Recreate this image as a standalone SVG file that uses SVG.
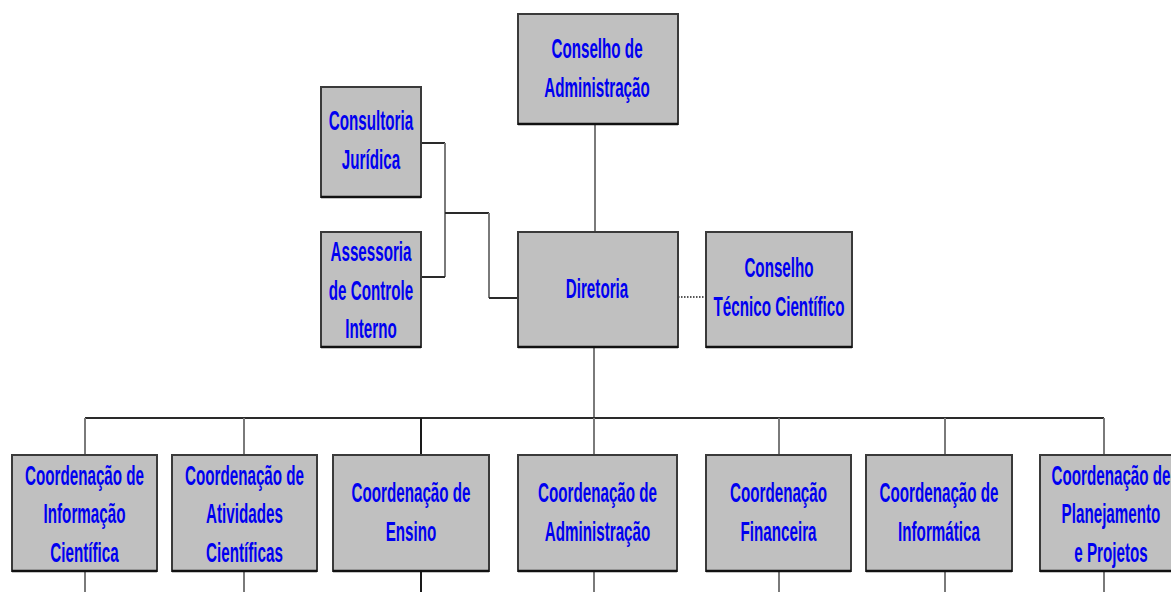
<svg xmlns="http://www.w3.org/2000/svg" width="1171" height="592" viewBox="0 0 1171 592">
<style>
.box{fill:#c0c0c0;stroke:#3a3a3a;stroke-width:2}
.sh{stroke:#111;stroke-width:2.5;fill:none}
.t{font-family:"Liberation Sans",Arial,sans-serif;font-weight:bold;font-size:19px;fill:#0000f0;text-anchor:middle}
.h{stroke:#2a2a2a;stroke-width:2;fill:none}
.v{stroke:#7a7a7a;stroke-width:2;fill:none}
.vd{stroke:#1a1a1a;stroke-width:2;fill:none}
.dot{stroke:#555;stroke-width:2;stroke-dasharray:1.5 1.5;fill:none}
</style>
<rect width="1171" height="592" fill="#ffffff"/>
<g id="connectors">
<path class="v" d="M595 124V232"/>
<path class="h" d="M421 143H445"/>
<path class="v" d="M445 143V277"/>
<path class="h" d="M421 277H445"/>
<path class="h" d="M445 213H489"/>
<path class="v" d="M489 213V298"/>
<path class="h" d="M489 298H518"/>
<path class="dot" d="M678 297H706"/>
<path class="v" d="M594 347V418"/>
<path class="h" d="M85 418H1104"/>
<path class="v" d="M85 418V455M85 571V592"/>
<path class="v" d="M244 418V455M244 571V592"/>
<path class="vd" d="M421 418V455M421 571V592"/>
<path class="v" d="M594 418V455M594 571V592"/>
<path class="v" d="M779 418V455M779 571V592"/>
<path class="v" d="M945 418V455M945 571V592"/>
<path class="v" d="M1104 418V455M1104 571V592"/>
</g>
<g id="conselho-administracao">
<rect class="box" x="518" y="14" width="160" height="110"/>
<path class="sh" d="M518 124H678"/>
<text class="t" transform="translate(597,58) scale(0.8,1.5)">Conselho de</text>
<text class="t" transform="translate(597,96.5) scale(0.8,1.5)">Administração</text>
</g>
<g id="consultoria-juridica">
<rect class="box" x="321" y="87" width="100" height="110"/>
<path class="sh" d="M321 197H421"/>
<text class="t" transform="translate(371,130) scale(0.8,1.5)">Consultoria</text>
<text class="t" transform="translate(371,168.5) scale(0.8,1.5)">Jurídica</text>
</g>
<g id="assessoria-controle-interno">
<rect class="box" x="321" y="232" width="100" height="115"/>
<path class="sh" d="M321 347H421"/>
<text class="t" transform="translate(371,261) scale(0.8,1.5)">Assessoria</text>
<text class="t" transform="translate(371,299.5) scale(0.8,1.5)">de Controle</text>
<text class="t" transform="translate(371,338) scale(0.8,1.5)">Interno</text>
</g>
<g id="diretoria">
<rect class="box" x="518" y="232" width="160" height="115"/>
<path class="sh" d="M518 347H678"/>
<text class="t" transform="translate(597,298) scale(0.8,1.5)">Diretoria</text>
</g>
<g id="conselho-tecnico-cientifico">
<rect class="box" x="706" y="232" width="146" height="115"/>
<path class="sh" d="M706 347H852"/>
<text class="t" transform="translate(779,277) scale(0.8,1.5)">Conselho</text>
<text class="t" transform="translate(779,315.5) scale(0.8,1.5)">Técnico Científico</text>
</g>
<g id="coord-informacao-cientifica">
<rect class="box" x="12" y="455" width="145" height="116"/>
<path class="sh" d="M12 571H157"/>
<text class="t" transform="translate(84.5,484.5) scale(0.8,1.5)">Coordenação de</text>
<text class="t" transform="translate(84.5,523) scale(0.8,1.5)">Informação</text>
<text class="t" transform="translate(84.5,561.5) scale(0.8,1.5)">Científica</text>
</g>
<g id="coord-atividades-cientificas">
<rect class="box" x="172" y="455" width="145" height="116"/>
<path class="sh" d="M172 571H317"/>
<text class="t" transform="translate(244.5,484.5) scale(0.8,1.5)">Coordenação de</text>
<text class="t" transform="translate(244.5,523) scale(0.8,1.5)">Atividades</text>
<text class="t" transform="translate(244.5,561.5) scale(0.8,1.5)">Científicas</text>
</g>
<g id="coord-ensino">
<rect class="box" x="333" y="455" width="156" height="116"/>
<path class="sh" d="M333 571H489"/>
<text class="t" transform="translate(411,502) scale(0.8,1.5)">Coordenação de</text>
<text class="t" transform="translate(411,540.5) scale(0.8,1.5)">Ensino</text>
</g>
<g id="coord-administracao">
<rect class="box" x="518" y="455" width="159" height="116"/>
<path class="sh" d="M518 571H677"/>
<text class="t" transform="translate(597.5,502) scale(0.8,1.5)">Coordenação de</text>
<text class="t" transform="translate(597.5,540.5) scale(0.8,1.5)">Administração</text>
</g>
<g id="coord-financeira">
<rect class="box" x="706" y="455" width="145" height="116"/>
<path class="sh" d="M706 571H851"/>
<text class="t" transform="translate(778.5,502) scale(0.8,1.5)">Coordenação</text>
<text class="t" transform="translate(778.5,540.5) scale(0.8,1.5)">Financeira</text>
</g>
<g id="coord-informatica">
<rect class="box" x="866" y="455" width="146" height="116"/>
<path class="sh" d="M866 571H1012"/>
<text class="t" transform="translate(939,502) scale(0.8,1.5)">Coordenação de</text>
<text class="t" transform="translate(939,540.5) scale(0.8,1.5)">Informática</text>
</g>
<g id="coord-planejamento-projetos">
<rect class="box" x="1040" y="455" width="142" height="116"/>
<path class="sh" d="M1040 571H1182"/>
<text class="t" transform="translate(1111,484.5) scale(0.8,1.5)">Coordenação de</text>
<text class="t" transform="translate(1111,523) scale(0.8,1.5)">Planejamento</text>
<text class="t" transform="translate(1111,561.5) scale(0.8,1.5)">e Projetos</text>
</g>
</svg>
